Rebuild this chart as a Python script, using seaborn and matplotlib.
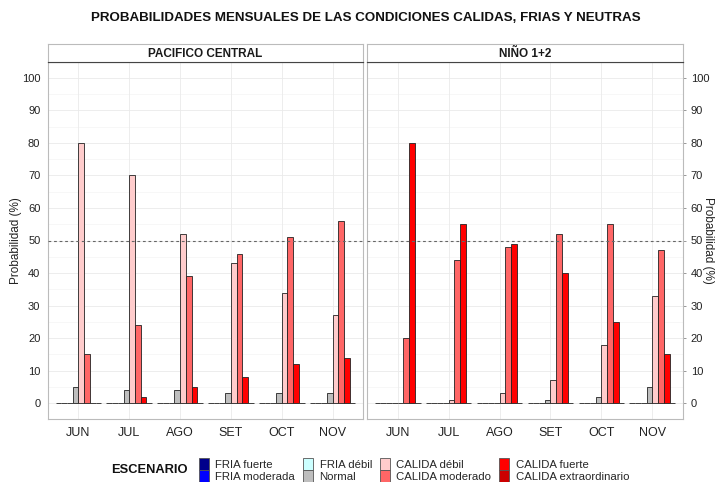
import pandas as pd
import matplotlib.pyplot as plt
import matplotlib.patches as mpatches
import seaborn as sns

# Datos
meses = ["JUN", "JUL", "AGO", "SET", "OCT", "NOV"]
escenarios = ["FRIA fuerte", "FRIA moderada", "FRIA débil", "Normal",
              "CALIDA débil", "CALIDA moderado", "CALIDA fuerte", "CALIDA extraordinario"]
colores = ["#00008B", "#0000FF", "#CCFFFF", "#BEBEBE",
           "#FFCCCC", "#FF6666", "#FF0000", "#CC0000"]

# Pacifico central (por escenario, de JUN a NOV)
pc_fria_fuerte = [0, 0, 0, 0, 0, 0]
pc_fria_moderada = [0, 0, 0, 0, 0, 0]
pc_fria_debil = [0, 0, 0, 0, 0, 0]
pc_normal = [5, 4, 4, 3, 3, 3]
pc_calida_debil = [80, 70, 52, 43, 34, 27]
pc_calida_moderado = [15, 24, 39, 46, 51, 56]
pc_calida_fuerte = [0, 2, 5, 8, 12, 14]
pc_calida_extra = [0, 0, 0, 0, 0, 0]

# Nino 1+2
n12_fria_fuerte = [0, 0, 0, 0, 0, 0]
n12_fria_moderada = [0, 0, 0, 0, 0, 0]
n12_fria_debil = [0, 0, 0, 0, 0, 0]
n12_normal = [0, 0, 0, 1, 2, 5]
n12_calida_debil = [0, 1, 3, 7, 18, 33]
n12_calida_moderado = [20, 44, 48, 52, 55, 47]
n12_calida_fuerte = [80, 55, 49, 40, 25, 15]
n12_calida_extra = [0, 0, 0, 0, 0, 0]

regiones = ["PACIFICO CENTRAL", "NIÑO 1+2"]
series = {
    "PACIFICO CENTRAL": [pc_fria_fuerte, pc_fria_moderada, pc_fria_debil, pc_normal,
                         pc_calida_debil, pc_calida_moderado, pc_calida_fuerte, pc_calida_extra],
    "NIÑO 1+2": [n12_fria_fuerte, n12_fria_moderada, n12_fria_debil, n12_normal,
                 n12_calida_debil, n12_calida_moderado, n12_calida_fuerte, n12_calida_extra],
}

rows = []
for reg in regiones:
    for esc, vals in zip(escenarios, series[reg]):
        for mes, v in zip(meses, vals):
            rows.append({"region": reg, "mes": mes, "escenario": esc, "prob": v})
df = pd.DataFrame(rows)

sns.set_theme(style="white")
plt.rcParams['font.family'] = ['Liberation Sans', 'DejaVu Sans']

W, H = 717, 482
fig = plt.figure(figsize=(W / 100, H / 100), dpi=100)
palette = dict(zip(escenarios, colores))

panel_x = [(48, 363), (367, 683)]
top_px, bot_px, strip_px = 62, 419, 18

for i, reg in enumerate(regiones):
    x0, x1 = panel_x[i]
    ax = fig.add_axes([x0 / W, 1 - bot_px / H, (x1 - x0) / W, (bot_px - top_px) / H])
    ax.set_axisbelow(True)
    for y in range(5, 100, 10):
        ax.axhline(y, color="#F4F4F4", lw=0.5, zorder=0)
    for y in range(0, 101, 10):
        ax.axhline(y, color="#EAEAEA", lw=0.6, zorder=0)
    for x in range(len(meses)):
        ax.axvline(x, color="#EAEAEA", lw=0.6, zorder=0)

    sns.barplot(data=df[df["region"] == reg], x="mes", y="prob", hue="escenario",
                hue_order=escenarios, order=meses, palette=palette, width=0.9,
                saturation=1, edgecolor="#222222", linewidth=0.6, ax=ax, legend=False,
                errorbar=None, zorder=2)
    ax.axhline(50, color="#666666", lw=0.8, ls=(0, (2.5, 2.5)), zorder=3)

    ax.set_xlim(-0.6, 5.6)
    ax.set_ylim(-4.9, 104.9)
    ax.set_yticks(range(0, 101, 10))
    ax.set_xlabel("")
    ax.tick_params(axis="both", length=2.5, width=0.6, color="#888888",
                   labelcolor="#222222", pad=3)
    ax.tick_params(axis="y", labelsize=8)
    ax.tick_params(axis="x", labelsize=9, pad=3)
    for s in ax.spines.values():
        s.set_color("#BBBBBB")
        s.set_linewidth(0.8)
    ax.spines["top"].set_color("#444444")
    if i == 0:
        ax.set_ylabel("Probabilidad (%)", fontsize=8.5, color="#222222")
        ax.yaxis.set_label_coords((22 - x0) / (x1 - x0), 0.5)
    else:
        ax.yaxis.tick_right()
        ax.set_ylabel("")

    sax = fig.add_axes([x0 / W, 1 - top_px / H, (x1 - x0) / W, strip_px / H])
    sax.set_xticks([])
    sax.set_yticks([])
    sax.set_facecolor("white")
    for s in sax.spines.values():
        s.set_color("#BBBBBB")
        s.set_linewidth(0.8)
    sax.spines["bottom"].set_color("#444444")
    sax.text(0.5, 0.45, reg, ha="center", va="center", fontsize=8.5,
             fontweight="bold", color="#1a1a1a", transform=sax.transAxes)

fig.text(708 / W, 1 - 240 / H, "Probabilidad (%)", rotation=-90, ha="center", va="center",
         fontsize=8.5, color="#222222")

fig.text(0.51, 1 - 18 / H, "PROBABILIDADES MENSUALES DE LAS CONDICIONES CALIDAS, FRIAS Y NEUTRAS",
         ha="center", va="center", fontsize=9.6, fontweight="bold", color="#111111")

handles = [mpatches.Patch(facecolor=c, edgecolor="#555555", linewidth=0.6, label=e)
           for e, c in zip(escenarios, colores)]
fig.text(111 / W, 1 - 470 / H, "ESCENARIO", ha="left", va="center",
         fontsize=9.3, fontweight="bold", color="#111111")
fig.legend(handles=handles, ncol=4, loc="center left", bbox_to_anchor=(192 / W, 1 - 470 / H),
           frameon=False, fontsize=8.2, handlelength=0.85, handleheight=1.2,
           handletextpad=0.6, columnspacing=0.7, labelspacing=0.0, borderpad=0.1)

plt.savefig("out.png", dpi=100)
